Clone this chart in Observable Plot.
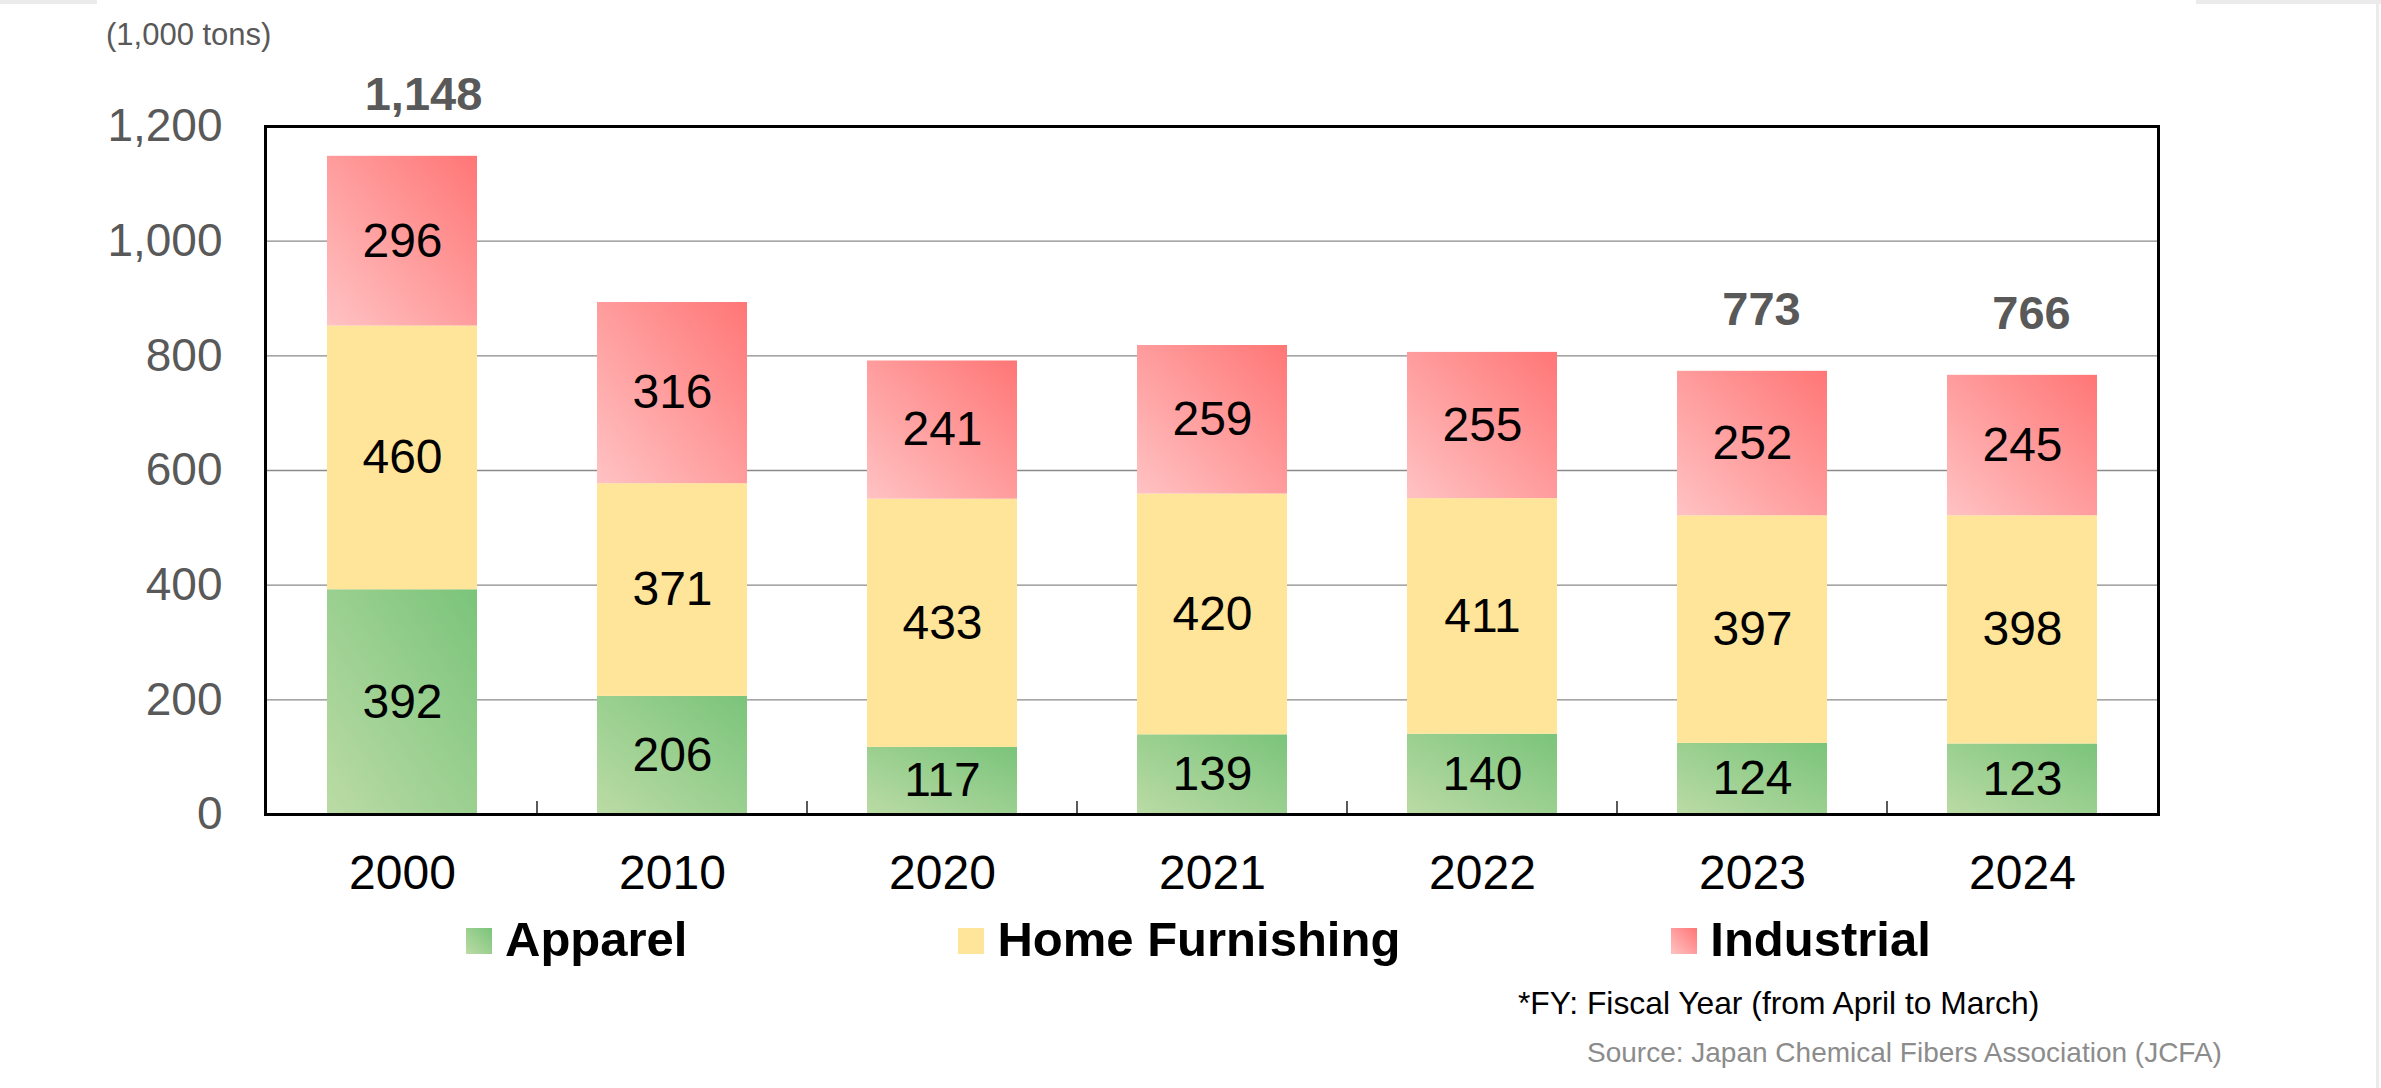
<!DOCTYPE html>
<html>
<head>
<meta charset="utf-8">
<script src="https://cdn.jsdelivr.net/npm/d3@7"></script>
<script src="https://cdn.jsdelivr.net/npm/@observablehq/plot@0.6"></script>
<style>
  html, body { margin: 0; padding: 0; background: #fff; }
  body { position: relative; width: 2381px; height: 1088px; overflow: hidden;
         font-family: "Liberation Sans", Arial, Helvetica, sans-serif; }
  #chart { position: absolute; left: 0; top: 0; }
  .abs { position: absolute; white-space: nowrap; line-height: 1; }
  #unit { left: 106px; top: 19px; font-size: 31px; color: #595959; }
  #legend { position: absolute; left: 466px; top: 915px; display: flex; gap: 271px; }
  .item { display: flex; align-items: flex-start; font-size: 49px; font-weight: bold; line-height: 1; color: #000; }
  .sw { width: 26px; height: 26px; margin-top: 13px; margin-right: 13px; }
  #fy { left: 1518px; top: 988px; font-size: 31.8px; color: #000; }
  #src { left: 1587px; top: 1039px; font-size: 28px; color: #8c8c8c; }
  .strip { position: absolute; background: #ebebeb; }
</style>
</head>
<body>
<svg width="0" height="0" style="position:absolute">
  <defs>
    <linearGradient id="gApparel" x1="0" y1="1" x2="1" y2="0">
      <stop offset="0" stop-color="#BBDBA5"/>
      <stop offset="1" stop-color="#7AC47B"/>
    </linearGradient>
    <linearGradient id="gHome" x1="0" y1="1" x2="1" y2="0">
      <stop offset="0" stop-color="#FFE599"/>
      <stop offset="1" stop-color="#FFE599"/>
    </linearGradient>
    <linearGradient id="gIndustrial" x1="0" y1="1" x2="1" y2="0">
      <stop offset="0" stop-color="#FFC2C3"/>
      <stop offset="1" stop-color="#FF7676"/>
    </linearGradient>
  </defs>
</svg>
<div class="strip" style="left:0;top:0;width:97px;height:4px"></div>
<div class="strip" style="left:2196px;top:0;width:185px;height:4px"></div>
<div class="strip" style="left:2376px;top:0;width:3px;height:1088px"></div>
<div id="unit" class="abs">(1,000 tons)</div>
<div id="chart"></div>
<div id="legend"></div>
<div id="fy" class="abs">*FY: Fiscal Year (from April to March)</div>
<div id="src" class="abs">Source: Japan Chemical Fibers Association (JCFA)</div>
<script>
// ---- data ----
const years = ["2000", "2010", "2020", "2021", "2022", "2023", "2024"];
const categories = ["Apparel", "Home Furnishing", "Industrial"];
const apparel = [392, 206, 117, 139, 140, 124, 123];
const homeFurnishing = [460, 371, 433, 420, 411, 397, 398];
const industrial = [296, 316, 241, 259, 255, 252, 245];
const totalYears = ["2000", "2023", "2024"];
const totalValues = [1148, 773, 766];
const yTicks = [0, 200, 400, 600, 800, 1000, 1200];

// ---- styling maps ----
const fills = {
  "Apparel": "url(#gApparel)",
  "Home Furnishing": "url(#gHome)",
  "Industrial": "url(#gIndustrial)"
};
const swatchCss = {
  "Apparel": "linear-gradient(to top right, #BBDBA5, #7AC47B)",
  "Home Furnishing": "#FFE599",
  "Industrial": "linear-gradient(to top right, #FFC2C3, #FF7676)"
};

const series = [apparel, homeFurnishing, industrial];
const rows = [];
years.forEach((yr, i) => {
  categories.forEach((c, j) => rows.push({year: yr, category: c, value: series[j][i]}));
});
const totals = totalYears.map((yr, i) => ({year: yr, total: totalValues[i]}));

const font = "'Liberation Sans', Arial, Helvetica, sans-serif";
const totalStyle = {
  x: "year", y: "total", text: d => d3.format(",")(d.total),
  lineAnchor: "bottom", dy: -46, fontSize: 47, fontWeight: "bold", fill: "#595959"
};

const chart = Plot.plot({
  width: 2381,
  height: 910,
  marginLeft: 265,
  marginRight: 223,
  marginTop: 126,
  marginBottom: 96,
  style: {fontFamily: font, background: "transparent", overflow: "visible"},
  x: {domain: years, paddingInner: 0.445, paddingOuter: 0.2225, label: null},
  y: {domain: [0, 1200], label: null},
  color: {type: "identity"},
  marks: [
    Plot.gridY({ticks: yTicks.slice(1, -1), stroke: "#8a8a8a", strokeOpacity: 1, strokeWidth: 1.4}),
    Plot.barY(rows, Plot.stackY({
      x: "year", y: "value", z: "category", order: categories,
      fill: d => fills[d.category]
    })),
    Plot.frame({stroke: "#000", strokeWidth: 3}),
    Plot.text(rows, Plot.stackY({
      x: "year", y: "value", z: "category", order: categories,
      text: d => String(d.value), fontSize: 48, fill: "#000"
    })),
    Plot.text(totals, {...totalStyle, filter: d => d.year === years[0], dx: 21}),
    Plot.text(totals, {...totalStyle, filter: d => d.year !== years[0], dx: 9}),
    Plot.axisY({ticks: yTicks, tickFormat: d3.format(","), tickSize: 0, tickPadding: 43,
      fontSize: 46, fill: "#595959", label: null}),
    Plot.axisX({tickSize: 0, tickPadding: 40, fontSize: 48, fill: "#000", label: null})
  ]
});

// category separator ticks along the bottom edge, placed from Plot's own band scale
const xs = chart.scale("x");
const ys = chart.scale("y");
const y0 = ys.apply(0);
d3.select(chart).append("g")
  .attr("stroke", "#000").attr("stroke-width", 1.3)
  .selectAll("line").data(years.slice(1)).join("line")
  .attr("x1", d => xs.apply(d) - (xs.step - xs.bandwidth) / 2)
  .attr("x2", d => xs.apply(d) - (xs.step - xs.bandwidth) / 2)
  .attr("y1", y0).attr("y2", y0 - 13);

document.getElementById("chart").appendChild(chart);

// legend
const legend = d3.select("#legend");
categories.forEach(c => {
  const it = legend.append("div").attr("class", "item");
  it.append("div").attr("class", "sw").style("background", swatchCss[c]);
  it.append("span").text(c);
});
</script>
</body>
</html>
